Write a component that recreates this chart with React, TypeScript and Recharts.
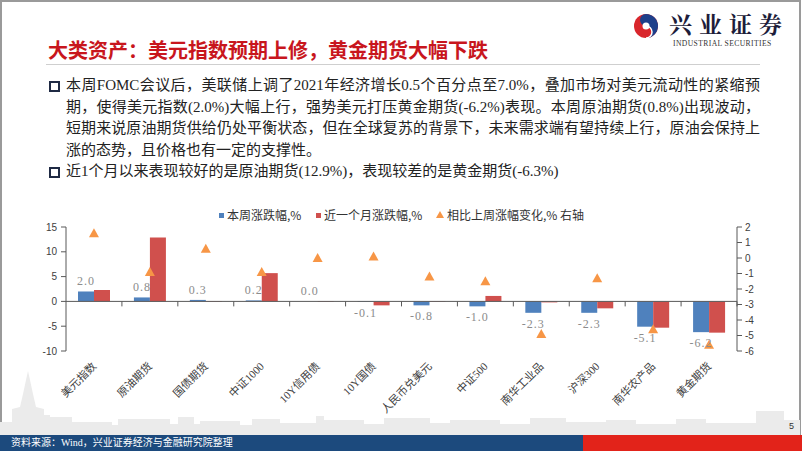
import React from "react";
import { ComposedChart, Bar, Line, XAxis, YAxis, ReferenceLine, LabelList } from "recharts";

const categories = ["美元指数", "原油期货", "国债期货", "中证1000", "10Y信用债", "10Y国债", "人民币兑美元", "中证500", "南华工业品", "沪深300", "南华农产品", "黄金期货"];
const weekChange = [2.0, 0.8, 0.3, 0.2, 0.0, -0.1, -0.8, -1.0, -2.3, -2.3, -5.1, -6.2];
const monthChange = [2.3, 12.9, -0.1, 5.7, -0.1, -0.8, -0.1, 1.1, -0.2, -1.4, -5.3, -6.3];
const weekDelta = [1.6, -0.9, 0.6, -0.9, 0.0, 0.1, -1.2, -1.5, -4.9, -1.3, -4.6, -5.6];
const leftTicks = [-10, -5, 0, 5, 10, 15];
const rightTicks = [-6, -5, -4, -3, -2, -1, 0, 1, 2];

const BLUE = "#4F81BD";
const RED = "#D0504D";
const ORANGE = "#F79646";
const AXIS = "#595959";
const BAR_SIZE = 16;

const data = categories.map((name, i) => ({
  name,
  week: weekChange[i],
  month: monthChange[i],
  delta: weekDelta[i],
}));

// decorative skyline behind the chart: [x, width, top]
const skyline = [
  [0, 12, 422], [44, 6, 415], [50, 22, 417], [72, 40, 422], [112, 6, 425], [118, 52, 419],
  [170, 8, 424], [178, 16, 417], [194, 6, 424], [200, 40, 421], [240, 12, 425], [252, 28, 419],
  [280, 36, 423], [316, 8, 416], [324, 40, 420], [364, 20, 424], [384, 46, 418], [430, 20, 423],
  [450, 50, 420], [500, 30, 424], [530, 36, 418], [566, 40, 422], [606, 30, 420], [636, 40, 424],
  [676, 30, 419], [706, 50, 423], [756, 28, 411], [784, 16, 420],
];

const SERIF_CJK = "'Liberation Serif', 'Noto Sans CJK SC', serif";
const SANS_CJK = "'Noto Sans CJK SC', sans-serif";

function CatTick(props: any) {
  const { x, y, payload } = props;
  return (
    <text
      x={0}
      y={0}
      transform={`translate(${x + 3},${y + 16}) rotate(-45)`}
      textAnchor="end"
      fontSize={11}
      fill="#404040"
      fontFamily={SERIF_CJK}
    >
      {payload.value}
    </text>
  );
}

// labels for the weekly bars, hung on an invisible line so zero values get one too
function WeekLabel(props: any) {
  const x = props.x ?? props.viewBox?.x;
  const y = props.y ?? props.viewBox?.y;
  const v = Number(props.value);
  if (x == null || y == null || Number.isNaN(v)) return null;
  const ty = v >= 0 ? y - 6 : y + 15;
  return (
    <text x={x - BAR_SIZE / 2} y={ty} textAnchor="middle" fontSize={12} fill="#8c8c8c" fontFamily="'Liberation Serif', serif" letterSpacing={1}>
      {v.toFixed(1)}
    </text>
  );
}

function ZeroAxis(props: any) {
  const { x1, x2, y1 } = props;
  const step = (x2 - x1) / categories.length;
  return (
    <g>
      <line x1={x1} y1={y1} x2={x2} y2={y1} stroke={AXIS} strokeWidth={1} />
      {categories.map((_, i) => (
        <line key={i} x1={x1 + step * (i + 1)} y1={y1} x2={x1 + step * (i + 1)} y2={y1 + 5} stroke={AXIS} strokeWidth={1} />
      ))}
    </g>
  );
}

function Triangle(props: any) {
  const { cx, cy, index } = props;
  if (cx == null || cy == null) return <g key={index} />;
  return <path key={index} d={`M${cx},${cy - 5} L${cx + 5},${cy + 4} L${cx - 5},${cy + 4} Z`} fill={ORANGE} />;
}

function LegendItem({ color, label, tri }: { color: string; label: string; tri?: boolean }) {
  return (
    <div style={{ display: "flex", alignItems: "center", whiteSpace: "nowrap" }}>
      {tri ? (
        <svg width={8} height={8} style={{ marginRight: 3 }}>
          <path d="M4,0 L8,7 L0,7 Z" fill={color} />
        </svg>
      ) : (
        <div style={{ width: 5, height: 5, background: color, marginRight: 3 }} />
      )}
      <span>{label}</span>
    </div>
  );
}

const para1 = [
  "本周FOMC会议后，美联储上调了2021年经济增长0.5个百分点至7.0%，叠加市场对美元流动性的紧缩预",
  "期，使得美元指数(2.0%)大幅上行，强势美元打压黄金期货(-6.2%)表现。本周原油期货(0.8%)出现波动，",
  "短期来说原油期货供给仍处平衡状态，但在全球复苏的背景下，未来需求端有望持续上行，原油会保持上",
  "涨的态势，且价格也有一定的支撑性。",
];
const para2 = "近1个月以来表现较好的是原油期货(12.9%)，表现较差的是黄金期货(-6.3%)";

function Bullet({ top }: { top: number }) {
  return <div style={{ position: "absolute", left: 49, top, width: 7, height: 7, border: "2px solid #1f2a44" }} />;
}

export default function App() {
  return (
    <div style={{ position: "absolute", left: 0, top: 0, width: 802, height: 451, overflow: "hidden", background: "#fff", fontFamily: SANS_CJK }}>
      {/* frame */}
      <div style={{ position: "absolute", left: 0, top: 0, width: 797, height: 449, borderLeft: "2px solid #9a9a9a", borderTop: "2px solid #9a9a9a", borderRight: "2px solid #9a9a9a" }} />

      {/* skyline */}
      <svg width={802} height={451} style={{ position: "absolute", left: 0, top: 0 }}>
        <path d="M12,435 L12,409 L20,407 L23,394 L26,380 L28,371 L30,380 L33,394 L36,407 L44,409 L44,435 Z" fill="#ebebeb" />
        {skyline.map(([x, w, t], i) => (
          <rect key={i} x={x} y={t} width={w} height={435 - t} fill="#ebebeb" />
        ))}
      </svg>

      {/* logo */}
      <svg width={26} height={26} viewBox="0 0 26 26" style={{ position: "absolute", left: 633, top: 13 }}>
        <circle cx={13} cy={13} r={12} fill="#d9262c" />
        <path d="M13,1 A12,12 0 0,1 13,25 A6,6 0 0,0 13,13 A6,6 0 0,1 13,1 Z" fill="#1e3f8a" />
        <circle cx={13} cy={13} r={3.5} fill="#fff" />
        <path d="M13,25 A6,6 0 0,0 13,13" stroke="#fff" strokeWidth={1.5} fill="none" />
      </svg>
      <div style={{ position: "absolute", left: 669, top: 10, fontSize: 23, fontWeight: 700, letterSpacing: 7, color: "#1d1d3a", fontFamily: "'Noto Serif CJK SC', 'Noto Sans CJK SC', serif", lineHeight: "28px", whiteSpace: "nowrap" }}>
        兴业证券
      </div>
      <div style={{ position: "absolute", left: 673, top: 39, fontSize: 7.6, letterSpacing: 0.4, color: "#333", fontFamily: "'Liberation Serif', serif", lineHeight: "10px", whiteSpace: "nowrap" }}>
        INDUSTRIAL SECURITIES
      </div>

      {/* title */}
      <div style={{ position: "absolute", left: 48, top: 37, fontSize: 20, fontWeight: 700, color: "#c8161d", lineHeight: "26px", whiteSpace: "nowrap" }}>
        大类资产：美元指数预期上修，黄金期货大幅下跌
      </div>
      <div style={{ position: "absolute", left: 46, top: 64, width: 714, height: 1, background: "#cfcfcf" }} />

      {/* text */}
      <Bullet top={81} />
      {para1.map((line, i) => (
        <div
          key={i}
          style={{
            position: "absolute",
            left: 66,
            top: 75 + i * 21.5,
            width: i < 3 ? 694 : undefined,
            fontSize: 15,
            lineHeight: "21px",
            color: "#222",
            fontFamily: SERIF_CJK,
            whiteSpace: "nowrap",
            textAlign: i < 3 ? "justify" : "left",
            textAlignLast: i < 3 ? "justify" : "left",
          }}
        >
          {line}
        </div>
      ))}
      <Bullet top={167} />
      <div style={{ position: "absolute", left: 66, top: 161, fontSize: 15, lineHeight: "21px", color: "#222", fontFamily: SERIF_CJK, whiteSpace: "nowrap" }}>
        {para2}
      </div>

      {/* legend */}
      <div style={{ position: "absolute", left: 0, top: 207, height: 16, fontSize: 12, color: "#333", fontFamily: SANS_CJK, lineHeight: "16px" }}>
        <div style={{ position: "absolute", left: 219 }}><LegendItem color={BLUE} label="本周涨跌幅,%" /></div>
        <div style={{ position: "absolute", left: 316 }}><LegendItem color={RED} label="近一个月涨跌幅,%" /></div>
        <div style={{ position: "absolute", left: 436 }}><LegendItem color={ORANGE} label="相比上周涨幅变化,% 右轴" tri /></div>
      </div>

      {/* chart */}
      <div style={{ position: "absolute", left: 0, top: 190 }}>
        <ComposedChart width={802} height={230} data={data} margin={{ top: 37, right: 10, bottom: 9, left: 10 }} barGap={0}>
          <XAxis dataKey="name" interval={0} axisLine={false} tickLine={false} tickSize={0} tickMargin={0} height={60} tick={<CatTick />} />
          <YAxis
            yAxisId="left"
            domain={[-10, 15]}
            ticks={leftTicks}
            interval={0}
            width={56}
            axisLine={{ stroke: AXIS }}
            tickLine={{ stroke: AXIS }}
            tickSize={5}
            tickMargin={4}
            tick={{ fontSize: 10, fill: "#404040", fontFamily: "'Liberation Sans', sans-serif" }}
          />
          <YAxis
            yAxisId="right"
            orientation="right"
            domain={[-6, 2]}
            ticks={rightTicks}
            interval={0}
            width={55}
            axisLine={{ stroke: AXIS }}
            tickLine={{ stroke: AXIS }}
            tickSize={5}
            tickMargin={3}
            tick={{ fontSize: 10, fill: "#404040", fontFamily: "'Liberation Sans', sans-serif" }}
          />
          <Bar yAxisId="left" dataKey="week" fill={BLUE} barSize={BAR_SIZE} isAnimationActive={false} />
          <Bar yAxisId="left" dataKey="month" fill={RED} barSize={BAR_SIZE} isAnimationActive={false} />
          <ReferenceLine yAxisId="left" y={0} shape={ZeroAxis} />
          <Line yAxisId="left" dataKey="week" stroke="none" dot={false} activeDot={false} legendType="none" isAnimationActive={false}>
            <LabelList dataKey="week" content={WeekLabel} />
          </Line>
          <Line yAxisId="right" dataKey="delta" stroke="none" dot={Triangle} activeDot={false} isAnimationActive={false} />
        </ComposedChart>
      </div>

      {/* page number */}
      <div style={{ position: "absolute", left: 789, top: 421, fontSize: 9, color: "#333", fontFamily: "'Liberation Sans', sans-serif" }}>5</div>

      {/* footer */}
      <div style={{ position: "absolute", left: 0, top: 435, width: 583, height: 16, background: "#1c4a7d" }} />
      <div style={{ position: "absolute", left: 583, top: 435, width: 219, height: 16, background: "#e2231a" }} />
      <div style={{ position: "absolute", left: 11, top: 435, fontSize: 10, lineHeight: "16px", color: "#fff", fontFamily: SERIF_CJK, whiteSpace: "nowrap" }}>
        资料来源：Wind，兴业证券经济与金融研究院整理
      </div>
    </div>
  );
}
